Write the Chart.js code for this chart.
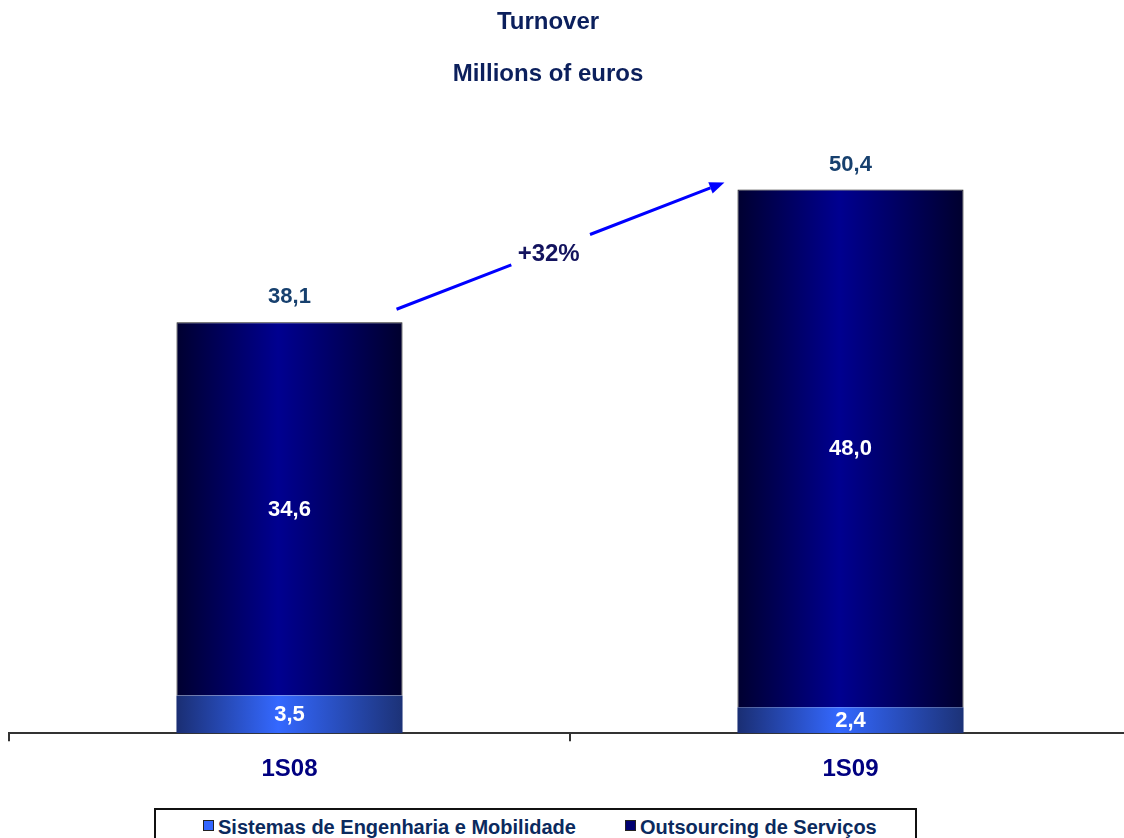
<!DOCTYPE html>
<html>
<head>
<meta charset="utf-8">
<title>Turnover</title>
<script src="https://cdn.jsdelivr.net/npm/chart.js@4/dist/chart.umd.min.js"></script>
<style>
    html, body { margin: 0; padding: 0; background: #fff; overflow: hidden; }
    body { width: 1124px; height: 838px; position: relative; font-family: "Liberation Sans", Arial, sans-serif; }
    #chart-wrap { position: absolute; left: 0; top: 0; width: 1140px; height: 838px; }
    #legend {
        position: absolute; left: 154px; top: 808px; width: 763px; height: 44px;
        border: 2px solid #111; box-sizing: border-box; background: #fff;
        font-weight: bold; font-size: 20px; color: #0b2a5e;
    }
    .legend-item { position: absolute; top: 6px; white-space: nowrap; line-height: 22px; }
    .legend-swatch { display: inline-block; width: 9px; height: 9px; border: 1px solid #222; margin-right: 4px; vertical-align: 3px; }
</style>
</head>
<body>
<div id="chart-wrap"><canvas id="turnover-chart"></canvas></div>
<div id="legend">
    <div class="legend-item" style="left: 47px;"><span class="legend-swatch" style="background:#3366ff"></span>Sistemas de Engenharia e Mobilidade</div>
    <div class="legend-item" style="left: 469px;"><span class="legend-swatch" style="background:#000070"></span>Outsourcing de Serviços</div>
</div>
<script>
// Chart data
const periods = ['1S08', '1S09'];
const sistemasValues = [3.5, 2.4];
const outsourcingValues = [34.6, 48.0];
const totalValues = [38.1, 50.4];
const growthLabel = '+32%';
const seriesNames = ['Sistemas de Engenharia e Mobilidade', 'Outsourcing de Serviços'];

const FONT = '"Liberation Sans", Arial, sans-serif';

function formatValue(v) {
    return v.toFixed(1).replace('.', ',');
}

// horizontal gradient across a bar (dark edges, bright centre)
function barGradient(context, stops) {
    const chart = context.chart;
    const area = chart.chartArea;
    if (!area) return stops[1][1];
    const xScale = chart.scales.x;
    const cx = xScale.getPixelForValue(context.dataIndex);
    const half = xScale.width / periods.length * 0.403 / 2;
    const g = chart.ctx.createLinearGradient(cx - half, 0, cx + half, 0);
    stops.forEach(s => g.addColorStop(s[0], s[1]));
    return g;
}

const sistemasStops = [[0, '#1a2e73'], [0.45, '#3468ff'], [1, '#1c3277']];
const outsourcingStops = [[0, '#000030'], [0.45, '#000090'], [1, '#00002e']];

// value labels, totals and growth arrow
const annotations = {
    id: 'annotations',
    afterDatasetsDraw(chart) {
        const ctx = chart.ctx;
        ctx.save();
        ctx.textAlign = 'center';
        ctx.textBaseline = 'middle';
        ctx.font = 'bold 22px ' + FONT;

        // segment values
        chart.data.datasets.forEach((ds, i) => {
            const meta = chart.getDatasetMeta(i);
            meta.data.forEach((el, j) => {
                ctx.fillStyle = '#ffffff';
                ctx.fillText(formatValue(ds.data[j]), el.x, (el.y + el.base) / 2 + 1);
            });
        });

        // totals
        const topMeta = chart.getDatasetMeta(1);
        topMeta.data.forEach((el, j) => {
            ctx.fillStyle = '#17406e';
            ctx.fillText(formatValue(totalValues[j]), el.x, el.y - 25);
        });

        // growth arrow
        const a = topMeta.data[0];
        const b = topMeta.data[1];
        const x1 = a.x + a.width / 2 - 6, y1 = a.y - 13;
        const x2 = b.x - b.width / 2 - 13, y2 = b.y - 7;
        const lerp = t => [x1 + (x2 - x1) * t, y1 + (y2 - y1) * t];
        const g1 = lerp(0.35), g2 = lerp(0.59);
        const ang = Math.atan2(y2 - y1, x2 - x1);
        const head = 15;
        const h0 = [x2 - head * Math.cos(ang), y2 - head * Math.sin(ang)];

        ctx.strokeStyle = '#0000ff';
        ctx.fillStyle = '#0000ff';
        ctx.lineWidth = 3;
        ctx.beginPath();
        ctx.moveTo(x1, y1);
        ctx.lineTo(g1[0], g1[1]);
        ctx.moveTo(g2[0], g2[1]);
        ctx.lineTo(h0[0], h0[1]);
        ctx.stroke();

        ctx.beginPath();
        ctx.moveTo(x2, y2);
        ctx.lineTo(h0[0] + 6 * Math.sin(ang), h0[1] - 6 * Math.cos(ang));
        ctx.lineTo(h0[0] - 6 * Math.sin(ang), h0[1] + 6 * Math.cos(ang));
        ctx.closePath();
        ctx.fill();

        const mid = lerp(0.47);
        ctx.fillStyle = '#13135e';
        ctx.font = 'bold 24px ' + FONT;
        ctx.fillText(growthLabel, mid[0] - 2, mid[1] + 5);

        // titles
        ctx.fillStyle = '#0b1f5c';
        ctx.font = 'bold 24px ' + FONT;
        ctx.fillText('Turnover', 548, 22);
        ctx.fillText('Millions of euros', 548, 74);
        ctx.restore();
    }
};

new Chart(document.getElementById('turnover-chart'), {
    type: 'bar',
    data: {
        labels: periods,
        datasets: [
            {
                label: seriesNames[0],
                data: sistemasValues,
                backgroundColor: c => barGradient(c, sistemasStops),
                borderWidth: 0
            },
            {
                label: seriesNames[1],
                data: outsourcingValues,
                backgroundColor: c => barGradient(c, outsourcingStops),
                borderColor: '#1a1a1a',
                borderWidth: 1
            }
        ]
    },
    options: {
        responsive: true,
        maintainAspectRatio: false,
        animation: false,
        layout: { padding: { left: 9, right: 9, top: 86, bottom: 40 } },
        datasets: {
            bar: { categoryPercentage: 1, barPercentage: 0.403 }
        },
        plugins: {
            legend: { display: false },
            title: { display: false },
            tooltip: { enabled: false }
        },
        scales: {
            x: {
                stacked: true,
                grid: { display: true, drawOnChartArea: false, drawTicks: true, tickLength: 8, color: '#333', lineWidth: 2 },
                border: { display: true, color: '#333', width: 2 },
                ticks: { color: '#000080', padding: 14, font: { family: FONT, size: 24, weight: 'bold' } }
            },
            y: {
                stacked: true,
                display: false,
                min: 0,
                max: 60
            }
        }
    },
    plugins: [annotations]
});
</script>
</body>
</html>
